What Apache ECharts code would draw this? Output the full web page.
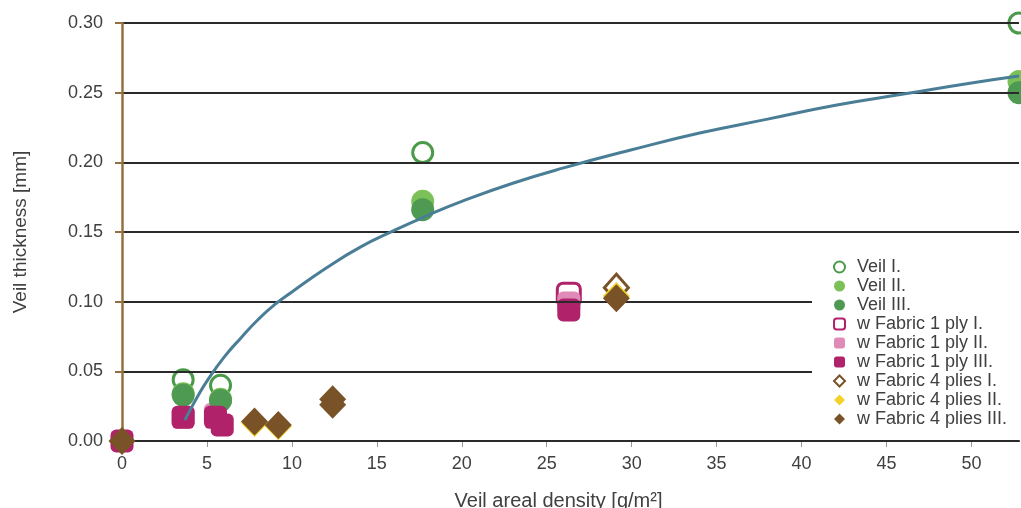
<!DOCTYPE html>
<html>
<head>
<meta charset="utf-8">
<script src="https://cdn.jsdelivr.net/npm/echarts@6/dist/echarts.min.js"></script>
<style>
html,body{margin:0;padding:0;background:#fff;}
#chart{width:1021px;height:508px;}
</style>
</head>
<body>
<div id="chart"></div>
<script>
// ---- data ----
const xTicks = [0, 5, 10, 15, 20, 25, 30, 35, 40, 45, 50];
const yTicks = ['0.00', '0.05', '0.10', '0.15', '0.20', '0.25', '0.30'];

const veil1 = [[3.6, 0.044], [5.8, 0.040], [17.7, 0.207], [52.8, 0.300]];
const veil2 = [[3.6, 0.034], [5.8, 0.030], [17.7, 0.172], [52.8, 0.258]];
const veil3 = [[3.6, 0.033], [5.8, 0.029], [17.7, 0.166], [52.8, 0.250]];

const fab1ply1 = [[26.3, 0.105]];
const fab1ply2 = [[3.6, 0.017], [5.5, 0.019], [26.3, 0.099]];
const fab1ply3 = [[0, 0], [3.6, 0.017], [5.5, 0.017], [5.9, 0.0115], [26.3, 0.094]];

const fab4ply1 = [[29.1, 0.110]];
const fab4ply2 = [[7.8, 0.013], [9.2, 0.0105], [29.1, 0.104]];
const fab4ply3 = [[0, 0], [7.8, 0.014], [9.2, 0.0115], [12.4, 0.030], [12.4, 0.026], [29.1, 0.1025]];

// trend curve, points
const trend = [[3.7, 0.015], [4, 0.022], [4.5, 0.033], [5, 0.043], [6, 0.060], [7, 0.074],
  [8, 0.087], [9, 0.098], [10, 0.107], [12, 0.124], [14, 0.139], [16, 0.151], [18, 0.162],
  [20, 0.172], [23, 0.185], [26, 0.196], [30, 0.209], [34, 0.221], [38, 0.231], [42, 0.241],
  [46, 0.249], [50, 0.257], [52.8, 0.262]];

const FONT = '"Liberation Sans", Arial, sans-serif';
const TXT = '#404040';

const chart = echarts.init(document.getElementById('chart'), null, {renderer: 'canvas'});

function scatter(name, data, symbol, size, style, z) {
  style.opacity = 1;
  return {
    name: name, type: 'scatter', data: data, symbol: symbol, symbolSize: size,
    itemStyle: style, z: z, clip: false,
    emphasis: {disabled: true}
  };
}

const option = {
  animation: false,
  backgroundColor: '#ffffff',
  textStyle: {fontFamily: FONT},
  grid: {left: 122, right: 2, top: 23, bottom: 67, containLabel: false, outerBoundsMode: 'none'},
  xAxis: {
    type: 'value', min: 0, max: 52.8, interval: 5,
    name: 'Veil areal density [g/m\u00B2]', nameLocation: 'middle', nameGap: 50,
    nameTextStyle: {fontSize: 20, color: TXT, fontFamily: FONT, padding: [0, 24, 0, 0]},
    axisLine: {show: true, lineStyle: {color: '#222', width: 2}},
    axisTick: {show: true, length: 6, lineStyle: {color: '#999', width: 1}},
    axisLabel: {fontSize: 18, color: TXT, margin: 14, showMaxLabel: false, fontFamily: FONT,
      formatter: v => (xTicks.indexOf(v) >= 0 ? String(v) : '')},
    splitLine: {show: false}
  },
  yAxis: [{
    type: 'value', min: 0, max: 0.30, interval: 0.05,
    name: 'Veil thickness [mm]', nameLocation: 'middle', nameGap: 92,
    nameTextStyle: {fontSize: 19, color: TXT, fontFamily: FONT},
    axisLine: {show: true, onZero: false, lineStyle: {color: '#94703f', width: 2.5}},
    axisTick: {show: true, length: 7, lineStyle: {color: '#94703f', width: 2}},
    axisLabel: {fontSize: 18, color: TXT, margin: 19, fontFamily: FONT,
      formatter: v => yTicks[Math.round(v / 0.05)]},
    splitLine: {show: true, lineStyle: {color: '#2a2a2a', width: 2}},
    z: 5
  }, {
    type: 'value', min: 0, max: 0.30, interval: 0.05, position: 'right',
    axisLine: {show: true, lineStyle: {color: '#cfcfcf', width: 1}},
    axisTick: {show: false}, axisLabel: {show: false}, splitLine: {show: false}
  }],
  legend: {
    orient: 'vertical', left: 812, top: 255,
    padding: [3, 12, 6, 21],
    backgroundColor: '#ffffff',
    itemWidth: 11, itemHeight: 11, itemGap: 1,
    textStyle: {fontSize: 18, color: TXT, fontFamily: FONT, padding: [0, 0, 0, 7]},
    z: 20,
    data: ['Veil I.', 'Veil II.', 'Veil III.', 'w Fabric 1 ply I.', 'w Fabric 1 ply II.',
      'w Fabric 1 ply III.', 'w Fabric 4 plies I.', 'w Fabric 4 plies II.', 'w Fabric 4 plies III.']
  },
  series: [
    scatter('Veil I.', veil1, 'circle', 20, {color: '#ffffff', borderColor: '#4a9a49', borderWidth: 3}, 2),
    scatter('Veil II.', veil2, 'circle', 23, {color: '#7cc158'}, 3),
    scatter('Veil III.', veil3, 'circle', 23, {color: '#4e9a52'}, 4),
    scatter('w Fabric 1 ply I.', fab1ply1, 'roundRect', 23, {color: '#ffffff', borderColor: '#b0236a', borderWidth: 3}, 2),
    scatter('w Fabric 1 ply II.', fab1ply2, 'roundRect', 23, {color: '#e08ab8'}, 3),
    scatter('w Fabric 1 ply III.', fab1ply3, 'roundRect', 23, {color: '#b0236a'}, 4),
    scatter('w Fabric 4 plies I.', fab4ply1, 'diamond', [24, 27], {color: '#ffffff', borderColor: '#7a5228', borderWidth: 3}, 5),
    scatter('w Fabric 4 plies II.', fab4ply2, 'diamond', [27, 28], {color: '#f3d22a'}, 6),
    scatter('w Fabric 4 plies III.', fab4ply3, 'diamond', [27, 28], {color: '#7a5228'}, 7),
    {
      name: 'trend', type: 'line', data: trend, smooth: true, showSymbol: false, symbol: 'none',
      lineStyle: {color: '#4a7e96', width: 3}, z: 10, clip: false,
      emphasis: {disabled: true}
    }
  ]
};
chart.setOption(option);
</script>
</body>
</html>
